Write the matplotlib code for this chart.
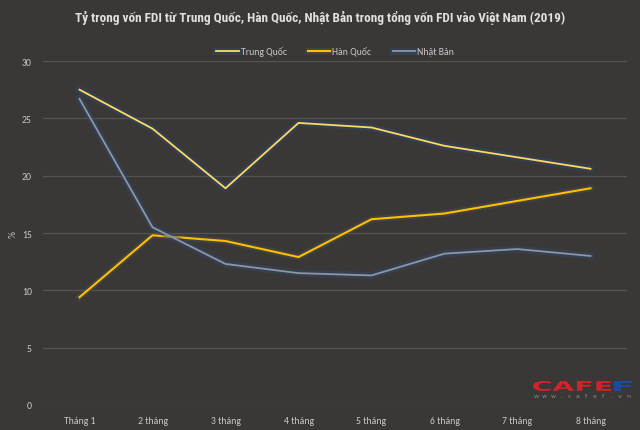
import matplotlib
matplotlib.use("Agg")
import matplotlib.pyplot as plt
import matplotlib.patheffects as pe
from matplotlib import font_manager
from matplotlib.textpath import TextPath
from matplotlib.patches import PathPatch
from matplotlib.font_manager import FontProperties
from matplotlib.transforms import Affine2D

categories = ["Tháng 1", "2 tháng", "3 tháng", "4 tháng", "5 tháng", "6 tháng", "7 tháng", "8 tháng"]
trung_quoc = [27.5, 24.1, 18.9, 24.6, 24.2, 22.6, 21.6, 20.6]
han_quoc = [9.4, 14.8, 14.3, 12.9, 16.2, 16.7, 17.8, 18.9]
nhat_ban = [26.7, 15.5, 12.3, 11.5, 11.3, 13.2, 13.6, 13.0]
title = "Tỷ trọng vốn FDI từ Trung Quốc, Hàn Quốc, Nhật Bản trong tổng vốn FDI vào Việt Nam (2019)"

names = {f.name for f in font_manager.fontManager.ttflist}
title_font = "DejaVu Sans"
for cand in ["Liberation Sans Narrow", "Arial Narrow", "Roboto Condensed", "Archivo Narrow",
             "PT Sans Narrow", "Open Sans Condensed", "Oswald", "Fira Sans Condensed",
             "IBM Plex Sans Condensed", "Encode Sans Condensed"]:
    if cand in names:
        title_font = cand
        break
body_font = "Open Sans" if "Open Sans" in names else "DejaVu Sans"
for cand in ["Carlito", "Calibri"]:
    if cand in names:
        body_font = cand
        break
plt.rcParams["font.family"] = [body_font, "DejaVu Sans"]

bg = "#393837"
fig = plt.figure(figsize=(6.4, 4.31), dpi=100, facecolor=bg)
ax = fig.add_axes([43/640, 1-406/431, (627-43)/640, (406-62)/431], facecolor=bg)

x = list(range(len(categories)))
glow = [pe.Stroke(linewidth=5, foreground="#34486a", alpha=0.45), pe.Normal()]
glow2 = [pe.Stroke(linewidth=4.5, foreground="#4e4d48", alpha=0.5), pe.Normal()]
ax.plot(x, trung_quoc, color="#FFD965", lw=1.3, label="Trung Quốc", path_effects=glow, zorder=3)
ax.plot(x, han_quoc, color="#FFC000", lw=1.5, label="Hàn Quốc", path_effects=glow2, zorder=3)
ax.plot(x, nhat_ban, color="#8C96A8", lw=1.3, label="Nhật Bản", path_effects=glow, zorder=3)

ax.set_xlim(-0.5, len(categories) - 0.5)
ax.set_ylim(0, 30)
ax.set_yticks(range(0, 31, 5))
ax.set_xticks(x)
ax.set_xticklabels(categories)
ax.grid(axis="y", color="#555453", lw=0.9)
ax.set_axisbelow(True)
for s in ax.spines.values():
    s.set_visible(False)
ax.tick_params(colors="#C8C8C8", labelsize=7, length=0, pad=8)
ax.set_ylabel("%", color="#C8C8C8", fontsize=7, labelpad=3)

fig.text(0.5, 1-18/431, title, ha="center", va="center", color="#E0E0E0",
         fontsize=9.5, fontweight="bold", family=[title_font, "DejaVu Sans"])
ax.legend(loc="center", bbox_to_anchor=(0.5, 1 + 10/344), ncol=3, frameon=False,
          fontsize=7, labelcolor="#C8C8C8", handlelength=2.3, columnspacing=2.2, handletextpad=0.2)

# CAFEF watermark: stretched wide letters
fp = FontProperties(family="DejaVu Sans", weight="bold")
def stretched(text, x0, x1, y0, y1, color):
    tp = TextPath((0, 0), text, size=10, prop=fp)
    ext = tp.get_extents()
    sx = (x1 - x0) / ext.width
    sy = (y1 - y0) / ext.height
    tr = Affine2D().translate(-ext.x0, -ext.y0).scale(sx, sy).translate(x0, 431 - y1)
    fig.patches.append(PathPatch(tp, transform=tr, facecolor=color, edgecolor="none"))
stretched("CAFE", 533, 611, 382, 392, "#D2232A")
stretched("F", 614, 632, 382, 392, "#1F4A9A")

url = "www.cafef.vn"
for i, ch in enumerate(url):
    fig.text((536 + i * 8.4) / 640, 1 - 397 / 431, ch, ha="center", va="center",
             color="#8a8a8a", fontsize=4.5, family="DejaVu Sans")

fig.savefig("out.png", dpi=100, facecolor=bg)
